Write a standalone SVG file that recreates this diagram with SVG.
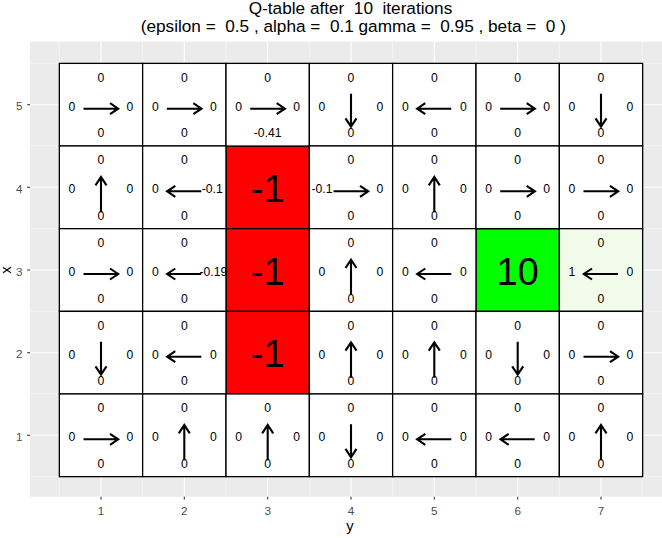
<svg xmlns="http://www.w3.org/2000/svg" xmlns:xlink="http://www.w3.org/1999/xlink" width="662" height="538" viewBox="0 0 662 538">
<style>
text{font-family:"Liberation Sans",Arial,sans-serif}
.title{font-size:17.2px;fill:#000;text-anchor:middle;white-space:pre}
.axt{font-size:11.7px;fill:#4D4D4D}
.axtitle{font-size:14.7px;fill:#000;text-anchor:middle}
.t{font-size:12.2px;fill:#000;text-anchor:middle}
.big{font-size:37.9px;fill:#000;text-anchor:middle}
.cell{stroke:#000;stroke-width:1.3;fill:#fff}
.gmaj{stroke:#fff;stroke-width:1.07}
.gmin{stroke:#fff;stroke-width:0.53}
.tick{stroke:#333;stroke-width:1.07}
.arr{fill:none;stroke:#000;stroke-width:2.1;stroke-linejoin:miter}
</style>
<defs>
<path id="ar" class="arr" d="M-17.5,4 H16.8 M9,-1.5 L17.2,4 L9,9.5"/>
<path id="al" class="arr" d="M17,4 H-16.8 M-9,-1.5 L-17.2,4 L-9,9.5"/>
<path id="au" class="arr" d="M0,25 V-10 M-5.5,-2 L0,-10.4 L5.5,-2"/>
<path id="ad" class="arr" d="M0,-11 V21.6 M-5.5,13.6 L0,22 L5.5,13.6"/>
</defs>
<rect width="662" height="538" fill="#fff"/>
<g id="title">
<text class="title" x="350.5" y="13.5" xml:space="preserve">Q-table after  10  iterations</text>
<text class="title" x="353.3" y="31.5" xml:space="preserve">(epsilon =  0.5 , alpha =  0.1 gamma =  0.95 , beta =  0 )</text>
</g>
<g id="panel">
<rect x="30" y="41.7" width="632" height="455" fill="#EBEBEB"/>
<g class="gmin">
<line x1="59.3" y1="41.7" x2="59.3" y2="496.7"/><line x1="142.6" y1="41.7" x2="142.6" y2="496.7"/><line x1="226" y1="41.7" x2="226" y2="496.7"/><line x1="309.3" y1="41.7" x2="309.3" y2="496.7"/><line x1="392.6" y1="41.7" x2="392.6" y2="496.7"/><line x1="476" y1="41.7" x2="476" y2="496.7"/><line x1="559.3" y1="41.7" x2="559.3" y2="496.7"/><line x1="642.6" y1="41.7" x2="642.6" y2="496.7"/>
<line x1="30" y1="63.3" x2="662" y2="63.3"/><line x1="30" y1="146" x2="662" y2="146"/><line x1="30" y1="228.7" x2="662" y2="228.7"/><line x1="30" y1="311.3" x2="662" y2="311.3"/><line x1="30" y1="394" x2="662" y2="394"/><line x1="30" y1="476.7" x2="662" y2="476.7"/>
</g>
<g class="gmaj">
<line x1="101" y1="41.7" x2="101" y2="496.7"/><line x1="184.3" y1="41.7" x2="184.3" y2="496.7"/><line x1="267.7" y1="41.7" x2="267.7" y2="496.7"/><line x1="351" y1="41.7" x2="351" y2="496.7"/><line x1="434.3" y1="41.7" x2="434.3" y2="496.7"/><line x1="517.7" y1="41.7" x2="517.7" y2="496.7"/><line x1="601" y1="41.7" x2="601" y2="496.7"/>
<line x1="30" y1="104.7" x2="662" y2="104.7"/><line x1="30" y1="187.3" x2="662" y2="187.3"/><line x1="30" y1="270" x2="662" y2="270"/><line x1="30" y1="352.7" x2="662" y2="352.7"/><line x1="30" y1="435.3" x2="662" y2="435.3"/>
</g>
</g>
<g id="axes">
<g class="tick">
<line x1="101" y1="496.7" x2="101" y2="499.5"/><line x1="184.3" y1="496.7" x2="184.3" y2="499.5"/><line x1="267.7" y1="496.7" x2="267.7" y2="499.5"/><line x1="351" y1="496.7" x2="351" y2="499.5"/><line x1="434.3" y1="496.7" x2="434.3" y2="499.5"/><line x1="517.7" y1="496.7" x2="517.7" y2="499.5"/><line x1="601" y1="496.7" x2="601" y2="499.5"/>
<line x1="27.2" y1="104.7" x2="30" y2="104.7"/><line x1="27.2" y1="187.3" x2="30" y2="187.3"/><line x1="27.2" y1="270" x2="30" y2="270"/><line x1="27.2" y1="352.7" x2="30" y2="352.7"/><line x1="27.2" y1="435.3" x2="30" y2="435.3"/>
</g>
<g class="axt" text-anchor="middle">
<text x="101" y="514.8">1</text><text x="184.3" y="514.8">2</text><text x="267.7" y="514.8">3</text><text x="351" y="514.8">4</text><text x="434.3" y="514.8">5</text><text x="517.7" y="514.8">6</text><text x="601" y="514.8">7</text>
</g>
<g class="axt" text-anchor="end">
<text x="22.5" y="110.2">5</text><text x="22.5" y="192.8">4</text><text x="22.5" y="275.5">3</text><text x="22.5" y="358.2">2</text><text x="22.5" y="440.8">1</text>
</g>
<text class="axtitle" x="350" y="531">y</text>
<text class="axtitle" transform="translate(11,270) rotate(-90)">x</text>
</g>
<g id="cells">
<g id="cell-3-4" transform="translate(267.7,187.3)"><rect class="cell" x="-41.67" y="-41.33" width="83.33" height="82.67" style="fill:#FF0000"/><text class="big" y="14.5">-1</text></g>
<g id="cell-3-3" transform="translate(267.7,270)"><rect class="cell" x="-41.67" y="-41.33" width="83.33" height="82.67" style="fill:#FF0000"/><text class="big" y="14.5">-1</text></g>
<g id="cell-3-2" transform="translate(267.7,352.7)"><rect class="cell" x="-41.67" y="-41.33" width="83.33" height="82.67" style="fill:#FF0000"/><text class="big" y="14.5">-1</text></g>
<g id="cell-6-3" transform="translate(517.7,270)"><rect class="cell" x="-41.67" y="-41.33" width="83.33" height="82.67" style="fill:#00FF00"/><text class="big" y="15">10</text></g>

<g id="cell-1-5" transform="translate(101,104.7)"><rect class="cell" x="-41.67" y="-41.33" width="83.33" height="82.67"/><use xlink:href="#ar"/><text class="t" y="-23">0</text><text class="t" x="-29" y="6">0</text><text class="t" x="29" y="6">0</text><text class="t" y="32.6">0</text></g>
<g id="cell-2-5" transform="translate(184.3,104.7)"><rect class="cell" x="-41.67" y="-41.33" width="83.33" height="82.67"/><use xlink:href="#ar"/><text class="t" y="-23">0</text><text class="t" x="-29" y="6">0</text><text class="t" x="29" y="6">0</text><text class="t" y="32.6">0</text></g>
<g id="cell-3-5" transform="translate(267.7,104.7)"><rect class="cell" x="-41.67" y="-41.33" width="83.33" height="82.67"/><use xlink:href="#ar"/><text class="t" y="-23">0</text><text class="t" x="-29" y="6">0</text><text class="t" x="29" y="6">0</text><text class="t" y="32.6">-0.41</text></g>
<g id="cell-4-5" transform="translate(351,104.7)"><rect class="cell" x="-41.67" y="-41.33" width="83.33" height="82.67"/><use xlink:href="#ad"/><text class="t" y="-23">0</text><text class="t" x="-29" y="6">0</text><text class="t" x="29" y="6">0</text><text class="t" y="32.6">0</text></g>
<g id="cell-5-5" transform="translate(434.3,104.7)"><rect class="cell" x="-41.67" y="-41.33" width="83.33" height="82.67"/><use xlink:href="#al"/><text class="t" y="-23">0</text><text class="t" x="-29" y="6">0</text><text class="t" x="29" y="6">0</text><text class="t" y="32.6">0</text></g>
<g id="cell-6-5" transform="translate(517.7,104.7)"><rect class="cell" x="-41.67" y="-41.33" width="83.33" height="82.67"/><use xlink:href="#ar"/><text class="t" y="-23">0</text><text class="t" x="-29" y="6">0</text><text class="t" x="29" y="6">0</text><text class="t" y="32.6">0</text></g>
<g id="cell-7-5" transform="translate(601,104.7)"><rect class="cell" x="-41.67" y="-41.33" width="83.33" height="82.67"/><use xlink:href="#ad"/><text class="t" y="-23">0</text><text class="t" x="-29" y="6">0</text><text class="t" x="29" y="6">0</text><text class="t" y="32.6">0</text></g>

<g id="cell-1-4" transform="translate(101,187.3)"><rect class="cell" x="-41.67" y="-41.33" width="83.33" height="82.67"/><use xlink:href="#au"/><text class="t" y="-23">0</text><text class="t" x="-29" y="6">0</text><text class="t" x="29" y="6">0</text><text class="t" y="32.6">0</text></g>
<g id="cell-2-4" transform="translate(184.3,187.3)"><rect class="cell" x="-41.67" y="-41.33" width="83.33" height="82.67"/><use xlink:href="#al"/><text class="t" y="-23">0</text><text class="t" x="-29" y="6">0</text><text class="t" x="28" y="6">-0.1</text><text class="t" y="32.6">0</text></g>
<g id="cell-4-4" transform="translate(351,187.3)"><rect class="cell" x="-41.67" y="-41.33" width="83.33" height="82.67"/><use xlink:href="#ar"/><text class="t" y="-23">0</text><text class="t" x="-29" y="6">-0.1</text><text class="t" x="29" y="6">0</text><text class="t" y="32.6">0</text></g>
<g id="cell-5-4" transform="translate(434.3,187.3)"><rect class="cell" x="-41.67" y="-41.33" width="83.33" height="82.67"/><use xlink:href="#au"/><text class="t" y="-23">0</text><text class="t" x="-29" y="6">0</text><text class="t" x="29" y="6">0</text><text class="t" y="32.6">0</text></g>
<g id="cell-6-4" transform="translate(517.7,187.3)"><rect class="cell" x="-41.67" y="-41.33" width="83.33" height="82.67"/><use xlink:href="#ar"/><text class="t" y="-23">0</text><text class="t" x="-29" y="6">0</text><text class="t" x="29" y="6">0</text><text class="t" y="32.6">0</text></g>
<g id="cell-7-4" transform="translate(601,187.3)"><rect class="cell" x="-41.67" y="-41.33" width="83.33" height="82.67"/><use xlink:href="#ar"/><text class="t" y="-23">0</text><text class="t" x="-29" y="6">0</text><text class="t" x="29" y="6">0</text><text class="t" y="32.6">0</text></g>

<g id="cell-1-3" transform="translate(101,270)"><rect class="cell" x="-41.67" y="-41.33" width="83.33" height="82.67"/><use xlink:href="#ar"/><text class="t" y="-23">0</text><text class="t" x="-29" y="6">0</text><text class="t" x="29" y="6">0</text><text class="t" y="32.6">0</text></g>
<g id="cell-2-3" transform="translate(184.3,270)"><rect class="cell" x="-41.67" y="-41.33" width="83.33" height="82.67"/><use xlink:href="#al"/><text class="t" y="-23">0</text><text class="t" x="-29" y="6">0</text><text class="t" x="29" y="6">-0.19</text><text class="t" y="32.6">0</text></g>
<g id="cell-4-3" transform="translate(351,270)"><rect class="cell" x="-41.67" y="-41.33" width="83.33" height="82.67"/><use xlink:href="#au"/><text class="t" y="-23">0</text><text class="t" x="-29" y="6">0</text><text class="t" x="29" y="6">0</text><text class="t" y="32.6">0</text></g>
<g id="cell-5-3" transform="translate(434.3,270)"><rect class="cell" x="-41.67" y="-41.33" width="83.33" height="82.67"/><use xlink:href="#al"/><text class="t" y="-23">0</text><text class="t" x="-29" y="6">0</text><text class="t" x="29" y="6">0</text><text class="t" y="32.6">0</text></g>
<g id="cell-7-3" transform="translate(601,270)"><rect class="cell" x="-41.67" y="-41.33" width="83.33" height="82.67" style="fill:#F0FCE9"/><use xlink:href="#al"/><text class="t" y="-23">0</text><text class="t" x="-29" y="6">1</text><text class="t" x="29" y="6">0</text><text class="t" y="32.6">0</text></g>

<g id="cell-1-2" transform="translate(101,352.7)"><rect class="cell" x="-41.67" y="-41.33" width="83.33" height="82.67"/><use xlink:href="#ad"/><text class="t" y="-23">0</text><text class="t" x="-29" y="6">0</text><text class="t" x="29" y="6">0</text><text class="t" y="32.6">0</text></g>
<g id="cell-2-2" transform="translate(184.3,352.7)"><rect class="cell" x="-41.67" y="-41.33" width="83.33" height="82.67"/><use xlink:href="#al"/><text class="t" y="-23">0</text><text class="t" x="-29" y="6">0</text><text class="t" x="29" y="6">0</text><text class="t" y="32.6">0</text></g>
<g id="cell-4-2" transform="translate(351,352.7)"><rect class="cell" x="-41.67" y="-41.33" width="83.33" height="82.67"/><use xlink:href="#au"/><text class="t" y="-23">0</text><text class="t" x="-29" y="6">0</text><text class="t" x="29" y="6">0</text><text class="t" y="32.6">0</text></g>
<g id="cell-5-2" transform="translate(434.3,352.7)"><rect class="cell" x="-41.67" y="-41.33" width="83.33" height="82.67"/><use xlink:href="#au"/><text class="t" y="-23">0</text><text class="t" x="-29" y="6">0</text><text class="t" x="29" y="6">0</text><text class="t" y="32.6">0</text></g>
<g id="cell-6-2" transform="translate(517.7,352.7)"><rect class="cell" x="-41.67" y="-41.33" width="83.33" height="82.67"/><use xlink:href="#ad"/><text class="t" y="-23">0</text><text class="t" x="-29" y="6">0</text><text class="t" x="29" y="6">0</text><text class="t" y="32.6">0</text></g>
<g id="cell-7-2" transform="translate(601,352.7)"><rect class="cell" x="-41.67" y="-41.33" width="83.33" height="82.67"/><use xlink:href="#ar"/><text class="t" y="-23">0</text><text class="t" x="-29" y="6">0</text><text class="t" x="29" y="6">0</text><text class="t" y="32.6">0</text></g>

<g id="cell-1-1" transform="translate(101,435.3)"><rect class="cell" x="-41.67" y="-41.33" width="83.33" height="82.67"/><use xlink:href="#ar"/><text class="t" y="-23">0</text><text class="t" x="-29" y="6">0</text><text class="t" x="29" y="6">0</text><text class="t" y="32.6">0</text></g>
<g id="cell-2-1" transform="translate(184.3,435.3)"><rect class="cell" x="-41.67" y="-41.33" width="83.33" height="82.67"/><use xlink:href="#au"/><text class="t" y="-23">0</text><text class="t" x="-29" y="6">0</text><text class="t" x="29" y="6">0</text><text class="t" y="32.6">0</text></g>
<g id="cell-3-1" transform="translate(267.7,435.3)"><rect class="cell" x="-41.67" y="-41.33" width="83.33" height="82.67"/><use xlink:href="#au"/><text class="t" y="-23">0</text><text class="t" x="-29" y="6">0</text><text class="t" x="29" y="6">0</text><text class="t" y="32.6">0</text></g>
<g id="cell-4-1" transform="translate(351,435.3)"><rect class="cell" x="-41.67" y="-41.33" width="83.33" height="82.67"/><use xlink:href="#ad"/><text class="t" y="-23">0</text><text class="t" x="-29" y="6">0</text><text class="t" x="29" y="6">0</text><text class="t" y="32.6">0</text></g>
<g id="cell-5-1" transform="translate(434.3,435.3)"><rect class="cell" x="-41.67" y="-41.33" width="83.33" height="82.67"/><use xlink:href="#al"/><text class="t" y="-23">0</text><text class="t" x="-29" y="6">0</text><text class="t" x="29" y="6">0</text><text class="t" y="32.6">0</text></g>
<g id="cell-6-1" transform="translate(517.7,435.3)"><rect class="cell" x="-41.67" y="-41.33" width="83.33" height="82.67"/><use xlink:href="#al"/><text class="t" y="-23">0</text><text class="t" x="-29" y="6">0</text><text class="t" x="29" y="6">0</text><text class="t" y="32.6">0</text></g>
<g id="cell-7-1" transform="translate(601,435.3)"><rect class="cell" x="-41.67" y="-41.33" width="83.33" height="82.67"/><use xlink:href="#au"/><text class="t" y="-23">0</text><text class="t" x="-29" y="6">0</text><text class="t" x="29" y="6">0</text><text class="t" y="32.6">0</text></g>
</g>
<g id="connectors"/>
</svg>
